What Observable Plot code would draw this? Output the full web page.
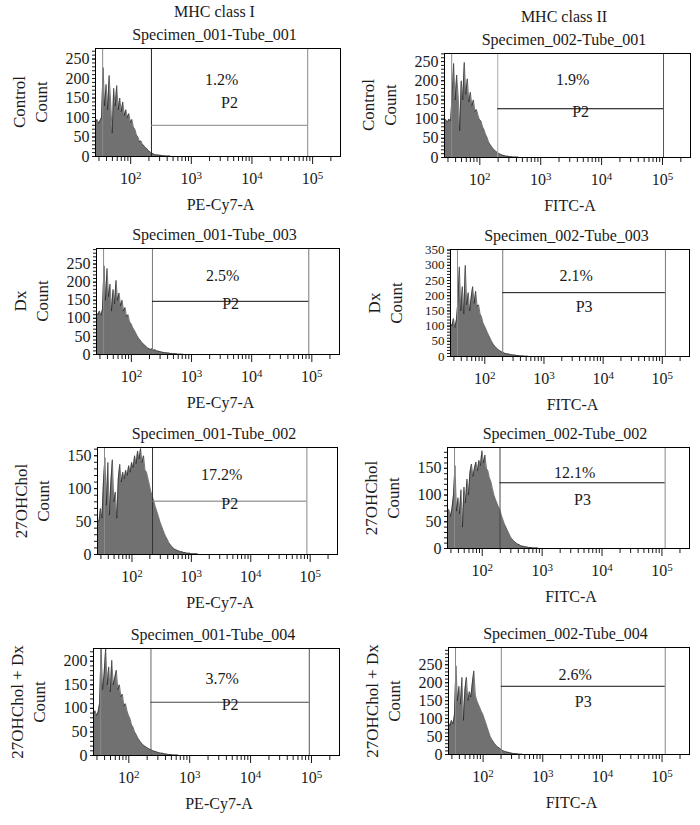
<!DOCTYPE html>
<html><head><meta charset="utf-8">
<script src="https://cdn.jsdelivr.net/npm/d3@7"></script>
<script src="https://cdn.jsdelivr.net/npm/@observablehq/plot@0.6"></script>
<style>
body{margin:0;background:#fff;}
#fig{position:relative;width:700px;height:825px;overflow:hidden;font-family:'Liberation Serif',serif;color:#1a1a1a;background:#fff;}
.lbl{position:absolute;white-space:nowrap;font-size:16px;line-height:1;transform:translate(-50%,-50%);}
.rot{transform:translate(-50%,-50%) rotate(-90deg);font-size:17px;}
</style></head><body><div id="fig"></div>
<script>
// ---------- data ----------
const columnTitles = ["MHC class I", "MHC class II"];
const channels = ["PE-Cy7-A", "FITC-A"];
const conditions = ["Control", "Dx", "27OHChol", "27OHChol + Dx"];
const specimens = [
  ["Specimen_001-Tube_001", "Specimen_002-Tube_001"],
  ["Specimen_001-Tube_003", "Specimen_002-Tube_003"],
  ["Specimen_001-Tube_002", "Specimen_002-Tube_002"],
  ["Specimen_001-Tube_004", "Specimen_002-Tube_004"]
];
const gateNames = ["P2", "P2", "P2", "P3", "P2", "P3", "P2", "P3"];
const gatePercent = ["1.2%", "1.9%", "2.5%", "2.1%", "17.2%", "12.1%", "3.7%", "2.6%"];
const gateLow = [220, 197, 224, 201, 222, 198, 231, 202];
const gateHigh = [83000, 104000, 89000, 113000, 88000, 113000, 92000, 113000];
const gateLevel = [80, 127, 147, 210, 81, 123, 113, 190];
const countMax = [277, 271, 293, 352, 162.5, 189, 227, 298];
const markerValue = 34.5;
const xDomainLog = [1.42, 5.46];
const majorTicks = [1e2, 1e3, 1e4, 1e5];
const binStartLog = 1.42, binsPerDecade = 40;

const countsControlI = [90,95,85,92,100,228,130,185,120,208,140,60,175,130,182,120,150,115,140,105,120,100,110,88,95,75,70,55,50,38,40,30,28,22,20,14,12,8,7,5,4,4,3,3,2,2,1,1,1,1,0];
const countsControlII = [100,98,92,100,95,160,245,150,215,160,70,200,150,248,165,205,145,170,135,150,120,125,110,98,95,80,72,60,52,40,34,28,22,19,15,12,10,8,6,5,4,3,3,2,2,1,1,1,1,0];
const countsDxI = [115,110,120,108,125,245,150,238,160,195,120,180,140,205,150,170,135,150,120,130,105,110,90,85,75,68,60,52,45,40,34,30,26,22,18,16,14,16,12,13,10,9,8,7,6,5,5,4,4,3,3,2,2,2,1,1,1,1,0];
const countsDxII = [110,100,125,95,120,180,295,150,230,140,300,170,210,150,195,230,175,215,165,170,140,130,110,100,90,78,68,58,48,40,34,28,24,20,17,14,12,10,9,8,7,6,5,5,4,3,3,2,2,2,1,1,1,0];
const counts27I = [52,50,70,55,110,147,75,140,60,110,144,80,95,55,115,137,110,125,115,128,120,135,125,140,132,150,138,157,145,161,140,150,128,125,115,105,95,88,80,72,65,58,50,44,38,32,27,23,18,15,12,10,8,7,6,5,4,4,3,3,2,2,2,1,1,1,1,1,0];
const counts27II = [75,72,60,75,100,155,70,95,65,110,40,115,85,130,100,142,158,135,150,162,145,165,155,183,160,175,150,145,132,125,112,100,92,85,78,72,62,54,46,40,34,28,22,18,15,12,10,8,7,5,4,4,3,3,2,2,2,1,1,1,1,0];
const counts27DxI = [88,95,85,92,110,227,140,174,227,150,188,135,202,150,165,181,140,150,125,130,105,110,95,85,78,65,60,50,45,38,33,28,25,21,19,17,15,13,12,10,9,8,7,6,5,5,4,3,3,2,2,2,1,1,1,1,0];
const counts27DxII = [88,80,95,85,110,247,150,190,140,215,95,180,215,150,175,160,200,233,165,150,140,130,120,112,100,88,75,62,50,42,36,30,25,21,18,15,12,10,8,7,6,5,4,3,3,2,2,1,1,1,0];
const allCounts = [countsControlI, countsControlII, countsDxI, countsDxII, counts27I, counts27II, counts27DxI, counts27DxII];

// ---------- layout (frame boxes in page px) & styles ----------
const layout = [
  {l:95,  t:48,  w:245, h:108, pctDy:25, pdy:-22, yFont:16, cl:"#222", cr:"#888", ch:"#888"},
  {l:444, t:53,  w:246, h:104, pctDy:20, pdy:3,   yFont:16, cl:"#aaa", cr:"#555", ch:"#000"},
  {l:96,  t:248, w:243, h:106, pctDy:21, pdy:3,   yFont:16, cl:"#777", cr:"#777", ch:"#111"},
  {l:450, t:249, w:239, h:107, pctDy:20, pdy:14,  yFont:13, cl:"#777", cr:"#777", ch:"#111"},
  {l:97,  t:447, w:240, h:107, pctDy:21, pdy:3,   yFont:16, cl:"#333", cr:"#888", ch:"#777"},
  {l:447, t:447, w:242, h:101, pctDy:19, pdy:17,  yFont:16, cl:"#444", cr:"#888", ch:"#111"},
  {l:93,  t:648, w:246, h:107, pctDy:24, pdy:3,   yFont:16, cl:"#666", cr:"#555", ch:"#444"},
  {l:448, t:647, w:241, h:107, pctDy:21, pdy:16,  yFont:16, cl:"#888", cr:"#888", ch:"#111"}
];
const fig = document.getElementById("fig");
function addLabel(x, y, text, rot) {
  const d = document.createElement("div");
  d.className = "lbl" + (rot ? " rot" : "");
  d.style.left = x + "px"; d.style.top = y + "px";
  d.textContent = text;
  fig.appendChild(d);
}
const minorTicks = [];
for (let e = 1; e <= 5; e++) for (let k = 2; k <= 9; k++) {
  const v = k * 10 ** e;
  if (Math.log10(v) > xDomainLog[0] && Math.log10(v) < xDomainLog[1]) minorTicks.push(v);
}
const mL = 60, mR = 20, mT = 10, mB = 45;

allCounts.forEach((counts, i) => {
  const r = Math.floor(i / 2), c = i % 2;
  const L = layout[i];
  const data = counts.map((n, k) => ({v: 10 ** (binStartLog + k / binsPerDecade), n}));
  const yMax = countMax[i];
  const gm = Math.sqrt(gateLow[i] * gateHigh[i]);
  const chart = Plot.plot({
    width: L.w + mL + mR, height: L.h + mT + mB,
    marginLeft: mL, marginRight: mR, marginTop: mT, marginBottom: mB,
    x: {type: "log", domain: xDomainLog.map(d => 10 ** d), label: null},
    y: {domain: [0, yMax], label: null},
    style: {fontFamily: "'Liberation Serif', serif", fontSize: "16px", background: "transparent", overflow: "visible", color: "#1a1a1a"},
    marks: [
      Plot.areaY(data, {x: "v", y: "n", fill: "#717171", clip: true}),
      Plot.lineY(data, {x: "v", y: "n", stroke: "#1e1e1e", strokeWidth: 0.6, clip: true}),
      Plot.ruleX([markerValue], {stroke: "#8a8a8a", strokeWidth: 1}),
      Plot.ruleX([gateLow[i]], {stroke: L.cl, strokeWidth: 1}),
      Plot.ruleX([gateHigh[i]], {stroke: L.cr, strokeWidth: 1}),
      Plot.ruleY([gateLevel[i]], {x1: () => gateLow[i], x2: () => gateHigh[i], stroke: L.ch, strokeWidth: 1}),
      Plot.text([gatePercent[i]], {x: () => gm, frameAnchor: "top", dy: L.pctDy, dx: -8, text: d => d, fontSize: 16, fill: "#1a1a1a"}),
      Plot.text([gateNames[i]], {x: () => gm, y: () => gateLevel[i], dy: L.pdy, text: d => d, fontSize: 16, fill: "#1a1a1a"}),
      Plot.axisX({ticks: majorTicks, tickSize: 8, tickPadding: 8, tickFormat: d => "10^" + Math.round(Math.log10(d)), label: null, fontSize: 16}),
      Plot.axisX({ticks: minorTicks, tickSize: 5, tickFormat: () => "", label: null}),
      Plot.axisY({ticks: d3.range(0, yMax, 50), tickSize: 3, tickPadding: 3, label: null, fontSize: L.yFont}),
      Plot.axisY({ticks: d3.range(0, yMax, 10), tickSize: 3, tickFormat: () => "", label: null}),
      Plot.frame({stroke: "#000", strokeWidth: 1})
    ]
  });
  // superscript exponents on the x tick labels
  chart.querySelectorAll("text").forEach(t => {
    const m = /^10\^(\d)$/.exec(t.textContent);
    if (!m) return;
    t.textContent = "10";
    const s = document.createElementNS("http://www.w3.org/2000/svg", "tspan");
    s.setAttribute("dy", "-0.45em");
    s.setAttribute("font-size", "11");
    s.textContent = m[1];
    t.appendChild(s);
  });
  chart.style.position = "absolute";
  chart.style.left = (L.l - mL) + "px";
  chart.style.top = (L.t - mT) + "px";
  chart.style.maxWidth = "none";
  fig.appendChild(chart);

  const cx = L.l + L.w / 2;
  if (r === 0) addLabel(cx - 3, L.t - 36, columnTitles[c]);
  addLabel(cx - 3, L.t - 13, specimens[r][c]);
  addLabel(cx + 3, L.t + L.h + 49, channels[c]);
  addLabel(L.l - 76, L.t + L.h / 2, conditions[r], true);
  addLabel(L.l - 54, L.t + L.h / 2, "Count", true);
});
</script></body></html>
